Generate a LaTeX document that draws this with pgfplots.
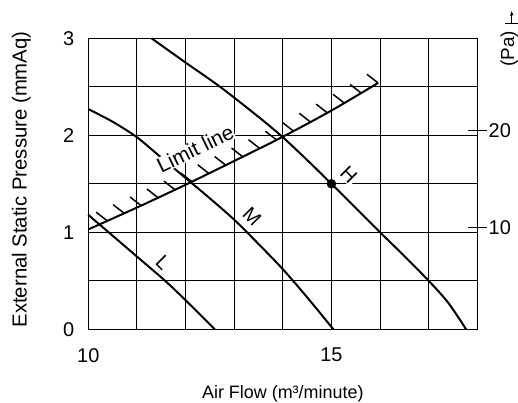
\documentclass[border=0pt]{standalone}
\usepackage{pgfplots}
\pgfplotsset{compat=1.18}
\usepackage{fontspec}
\setmainfont{Liberation Sans}
\usetikzlibrary{arrows.meta}

\begin{document}
\begin{tikzpicture}
\useasboundingbox (0,0) rectangle (518bp,403bp);
\begin{axis}[
  at={(88.3bp,73.7bp)}, anchor=south west,
  scale only axis, width=389bp, height=291bp,
  xmin=10, xmax=18, ymin=0, ymax=3,
  xtick={10,...,18}, xticklabels={10,,,,,15,,,},
  ytick={0,0.5,...,3}, yticklabels={0,,1,,2,,3},
  grid=major, major grid style={black, line width=1.1bp},
  axis line style={black, line width=1.3bp},
  major tick length=0pt,
  /pgf/number format/assume math mode=true,
  tick label style={font=\fontsize{20}{24}\selectfont},
  xticklabel style={anchor=north, inner sep=0pt, yshift=-18.7bp},
  yticklabel style={anchor=east, inner sep=0pt, xshift=-14bp},
  xlabel={Air Flow (m³/minute)},
  ylabel={External Static Pressure (mmAq)},
  xlabel style={at={(axis description cs:0.5,0)}, yshift=-69.2bp, anchor=base, inner sep=0pt, font=\fontsize{18}{22}\selectfont},
  ylabel style={at={(axis description cs:-0.1584,0.515)}, anchor=base, inner sep=0pt, font=\fontsize{20.4}{24}\selectfont},
  clip=false,
]
% L curve
\addplot[black, line width=2bp, smooth, tension=0.5] coordinates {
  (10,1.18) (10.5,0.965) (11,0.75) (11.58,0.5) (12,0.30) (12.6,0)
};
% M curve
\addplot[black, line width=2bp, smooth, tension=0.5] coordinates {
  (10,2.27) (10.5,2.14) (11,1.98) (11.5,1.77) (12,1.56) (12.5,1.35)
  (13,1.13) (13.5,0.88) (14,0.62) (14.5,0.33) (15.04,0)
};
% H curve
\addplot[black, line width=2bp, smooth, tension=0.5] coordinates {
  (11.3,3.0) (12,2.75) (12.71,2.5) (13.5,2.19) (14,1.98) (14.5,1.745) (15,1.5)
  (15.5,1.25) (16,1.0) (16.5,0.755) (17,0.5) (17.4,0.275) (17.77,0)
};
% Limit line
\addplot[black, line width=2bp, smooth, tension=0.5] coordinates {
  (10,1.03) (11,1.255) (12,1.49) (13,1.735) (14,1.985) (15,2.255) (15.96,2.54)
};
% hatching of the limit line
\addplot[black, line width=1.5bp, no markers, quiver={u=\thisrow{u}, v=\thisrow{v}}] table {
x y u v
10.390 1.118 -0.227 0.089
10.738 1.196 -0.227 0.089
11.086 1.275 -0.227 0.089
11.434 1.357 -0.227 0.089
11.782 1.439 -0.227 0.089
12.130 1.522 -0.227 0.089
12.478 1.607 -0.227 0.089
12.826 1.692 -0.227 0.089
13.174 1.779 -0.227 0.089
13.522 1.866 -0.227 0.089
13.870 1.953 -0.227 0.089
14.218 2.044 -0.227 0.089
14.566 2.138 -0.227 0.089
14.914 2.232 -0.227 0.089
15.262 2.333 -0.227 0.089
15.610 2.436 -0.227 0.089
15.958 2.540 -0.227 0.089
};
% operating point
\addplot[only marks, mark=*, mark size=4.5bp, black] coordinates {(15,1.5)};

\node[rotate=26, fill=white, inner sep=0.5bp, font=\fontsize{21}{24}\selectfont] at (axis cs:12.2,1.86) {Limit line};
\node[rotate=-45, fill=white, inner sep=1bp, font=\fontsize{20}{22}\selectfont] at (axis cs:15.36,1.59) {H};
\node[rotate=-45, fill=white, inner sep=1bp, font=\fontsize{20}{22}\selectfont] at (axis cs:13.37,1.16) {M};
\node[rotate=-45, fill=white, inner sep=1bp, font=\fontsize{20}{22}\selectfont] at (axis cs:11.54,0.69) {L};
\end{axis}

\begin{axis}[
  at={(88.3bp,73.7bp)}, anchor=south west,
  scale only axis, width=389bp, height=291bp,
  xmin=10, xmax=18, ymin=0, ymax=3,
  axis x line=none, axis y line*=right,
  axis line style={black, line width=1.3bp},
  ytick={1.047,2.047}, yticklabels={10,20},
  major tick length=19.4bp, tick align=center,
  tick style={black, line width=1.1bp},
  /pgf/number format/assume math mode=true,
  yticklabel style={anchor=west, inner sep=0pt, xshift=1.5bp, font=\fontsize{20}{24}\selectfont},
]
\end{axis}

\node[rotate=90, font=\fontsize{19}{22}\selectfont, inner sep=0pt] at (509.2bp,354bp) {(Pa)};
\draw[line width=1bp] (505bp,379bp) -- (518bp,379bp);
\draw[line width=1bp, -{Stealth[length=5bp,width=3.5bp]}] (511.7bp,379bp) -- (511.7bp,392bp);
\end{tikzpicture}
\end{document}
